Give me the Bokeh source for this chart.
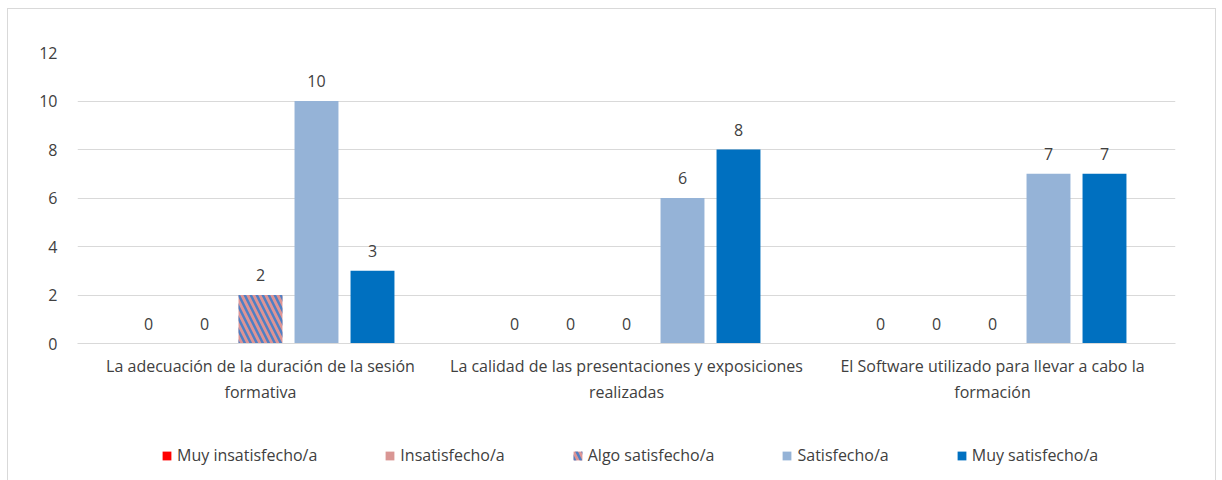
from bokeh.plotting import figure
from bokeh.layouts import column
from bokeh.models import ColumnDataSource, Legend, LegendItem, SingleIntervalTicker
from bokeh.transform import dodge
from bokeh.core.properties import value
from bokeh.embed import file_html
from bokeh.resources import INLINE

categories = [
    "La adecuación de la duración de la sesión\nformativa",
    "La calidad de las presentaciones y exposiciones\nrealizadas",
    "El Software utilizado para llevar a cabo la\nformación",
]
series_names = ["Muy insatisfecho/a", "Insatisfecho/a", "Algo satisfecho/a", "Satisfecho/a", "Muy satisfecho/a"]
muy_insatisfecho = [0, 0, 0]
insatisfecho = [0, 0, 0]
algo_satisfecho = [2, 0, 0]
satisfecho = [10, 6, 7]
muy_satisfecho = [3, 8, 7]
y_ticks_interval = 2

FONT = "Open Sans"
FS = "16px"
TXT = "#404040"
colors = ["#FF0000", "#D99694", "#DE9494", "#95B3D7", "#0070C0"]
offsets = [-0.306, -0.153, 0.0, 0.153, 0.306]
HATCH = dict(hatch_pattern="left_diagonal_line", hatch_color="#4F7FC4",
             hatch_weight=2.5, hatch_scale=12)

src = ColumnDataSource(data=dict(
    cat=categories,
    s0=muy_insatisfecho, s1=insatisfecho, s2=algo_satisfecho, s3=satisfecho, s4=muy_satisfecho,
    t0=[str(v) for v in muy_insatisfecho],
    t1=[str(v) for v in insatisfecho],
    t2=[str(v) for v in algo_satisfecho],
    t3=[str(v) for v in satisfecho],
    t4=[str(v) for v in muy_satisfecho],
))

p = figure(frame_width=1098, frame_height=291, x_range=categories, y_range=(0, 12),
           output_backend="svg", toolbar_location=None,
           min_border_left=69, min_border_right=40, min_border_top=43, min_border_bottom=70)
p.outline_line_color = None
p.background_fill_color = "white"
p.border_fill_color = "white"

for i in range(5):
    kw = dict(fill_color=colors[i], line_color=None)
    if i == 2:
        kw.update(HATCH)
    p.vbar(x=dodge("cat", offsets[i], range=p.x_range), top="s%d" % i, width=0.12,
           source=src, **kw)
    p.text(x=dodge("cat", offsets[i], range=p.x_range), y="s%d" % i, text="t%d" % i,
           source=src, text_align="center", text_baseline="bottom", y_offset=-14,
           text_font=value(FONT), text_font_size=FS, text_color=TXT)

p.yaxis.ticker = SingleIntervalTicker(interval=y_ticks_interval)
p.yaxis.axis_line_color = None
p.yaxis.major_tick_line_color = None
p.yaxis.minor_tick_line_color = None
p.yaxis.major_label_text_font = FONT
p.yaxis.major_label_text_font_size = FS
p.yaxis.major_label_text_color = TXT
p.yaxis.major_label_standoff = 14

p.xaxis.axis_line_color = "#D9D9D9"
p.xaxis.major_tick_line_color = None
p.xaxis.minor_tick_line_color = None
p.xaxis.major_label_text_font = FONT
p.xaxis.major_label_text_font_size = FS
p.xaxis.major_label_text_color = TXT
p.xaxis.major_label_standoff = 5

p.xgrid.grid_line_color = None
p.ygrid.grid_line_color = "#D9D9D9"
p.ygrid.grid_line_width = 1

# legend panel as a second, axis-less figure (its swatch renderers draw nothing visible)
lf = figure(width=1207, height=68, x_range=(0, 1), y_range=(0, 1),
            output_backend="svg", toolbar_location=None,
            x_axis_type=None, y_axis_type=None,
            min_border_left=0, min_border_right=0, min_border_top=0, min_border_bottom=0)
lf.outline_line_color = None
lf.grid.visible = False
lf.background_fill_color = "white"
lf.border_fill_color = "white"
items = []
for i in range(5):
    kw = dict(fill_color=colors[i], line_color=None)
    if i == 2:
        kw.update(HATCH)
    r = lf.vbar(x=[-5], top=[0], width=0.1, **kw)
    items.append(LegendItem(label=series_names[i], renderers=[r]))

legend = Legend(items=items, orientation="horizontal", location=(84, 15),
                label_text_font=FONT, label_text_font_size=FS, label_text_color=TXT,
                glyph_width=11, glyph_height=11, spacing=67, label_standoff=5,
                border_line_color=None, background_fill_alpha=0, margin=0, padding=0)
lf.add_layout(legend, "center")

layout = column(p, lf, spacing=0)
layout.margin = (8, 0, 0, 7)
layout.styles = {"border": "1px solid #D9D9D9"}

open("out.html", "w").write(file_html(layout, INLINE))
